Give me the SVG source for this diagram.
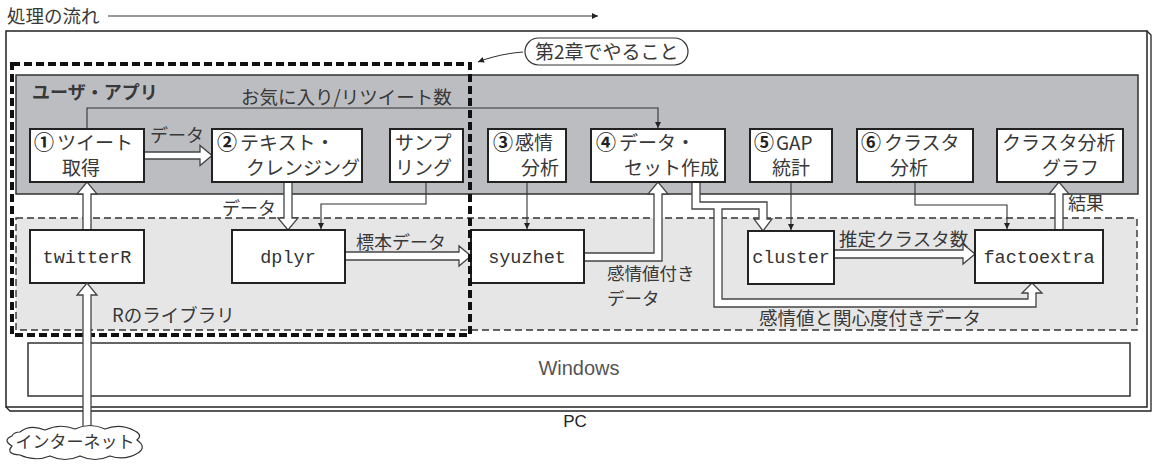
<svg xmlns="http://www.w3.org/2000/svg" width="1158" height="466" viewBox="0 0 1158 466">
<defs>
<marker id="ah" viewBox="0 0 10 10" refX="10" refY="5" markerWidth="8" markerHeight="6" markerUnits="userSpaceOnUse" orient="auto"><path d="M0,0 L10,5 L0,10 z" fill="#222"/></marker>
<style>
.jp{font-family:"Noto Sans CJK JP","Noto Sans",sans-serif;fill:#383838;}
.lbl{font-size:19px;}
.num{font-size:20px;font-weight:bold;fill:#222;}
.mono{font-family:"Liberation Mono",monospace;font-size:18.5px;fill:#333;text-anchor:middle;}
.box{fill:#fff;stroke:#222;stroke-width:2;}
.dbl{fill:#fff;stroke:#444;stroke-width:1.3;stroke-linejoin:miter;}
.thin{fill:none;stroke:#333;stroke-width:1.1;marker-end:url(#ah);}
</style>
</defs>

<g id="flow-title">
<text class="jp" x="7" y="23" font-size="18.5">処理の流れ</text>
<path d="M108,16 H598" class="thin"/>
</g>

<g id="pc">
<rect x="6" y="31" width="1141" height="376" fill="#fff" stroke="#222" stroke-width="1.5"/>
<path d="M1147,31 L1151,35 V411 H10 L6,407" fill="none" stroke="#222" stroke-width="1.3"/>
<text x="575" y="427" font-family="Liberation Sans,Arial,sans-serif" font-size="17" fill="#222" text-anchor="middle">PC</text>
</g>

<g id="windows">
<rect x="28" y="343" width="1102" height="53" fill="#fff" stroke="#333" stroke-width="1.5"/>
<text x="579" y="375" font-family="Liberation Sans,Arial,sans-serif" font-size="20" fill="#555" text-anchor="middle">Windows</text>
</g>

<g id="user-app">
<rect x="16" y="75" width="1122" height="119" fill="#bcbdc0" stroke="#333" stroke-width="1.5"/>
<text class="jp" x="32" y="99" font-size="18" font-weight="bold" fill="#222">ユーザ・アプリ</text>
</g>

<g id="r-library">
<rect x="16" y="218" width="1121" height="112" fill="#e6e6e7" stroke="#333" stroke-width="1.4" stroke-dasharray="7,4"/>
<text class="jp" x="112" y="322" font-size="18.5" fill="#222">Rのライブラリ</text>
</g>

<g id="connectors">
<path class="thin" d="M87,129 V108 H658 V128"/>
<text class="jp" x="241" y="104" font-size="18.5">お気に入り/リツイート数</text>
<path class="dbl" d="M144,152 H200 V145.5 L212,155.5 L200,165.5 V159 H144"/>
<text class="jp" x="150" y="142" font-size="18">データ</text>
<path class="dbl" d="M284,182 V218 H278 L288,230 L298,218 H292 V182"/>
<text class="jp" x="222" y="215" font-size="18">データ</text>
<path class="thin" d="M426,182 V204 H321 V229"/>
<path class="dbl" d="M83,230 V194 H77 L87,182 L97,194 H91 V230"/>
<path class="dbl" d="M345,252 H459 V246 L471,256 L459,266 V260 H345"/>
<text class="jp" x="356" y="249" font-size="18">標本データ</text>
<path class="thin" d="M527,182 V229"/>
<path class="dbl" d="M584,253 H654 V194 H648 L658,182 L668,194 H662 V261 H584"/>
<text class="jp" x="607" y="280" font-size="17.5">感情値付き</text>
<text class="jp" x="607" y="305" font-size="17.5">データ</text>
<path class="dbl" d="M692,182 V209 H714 V307 H1036 V293 H1042 L1032,283 L1022,293 H1028 V299 H722 V209 H759 V219 H754 L763,231 L772,219 H767 V202 H700 V182"/>
<text class="jp" x="759" y="325" font-size="18.5">感情値と関心度付きデータ</text>
<path class="thin" d="M791,182 V230"/>
<path class="thin" d="M915,182 V205 H1007 V229"/>
<path class="dbl" d="M834,250 H963 V244 L975,254 L963,264 V258 H834"/>
<text class="jp" x="839" y="246" font-size="18.5">推定クラスタ数</text>
<path class="dbl" d="M1055,230 V194 H1049 L1059,182 L1069,194 H1063 V230"/>
<text class="jp" x="1068" y="210" font-size="18">結果</text>
</g>

<g id="n1"><rect class="box" x="30" y="129" width="114" height="53"/><text class="jp lbl" x="34" y="150"><tspan class="num">①</tspan><tspan dx="3">ツイート</tspan></text><text class="jp lbl" x="62" y="175">取得</text></g>
<g id="n2"><rect class="box" x="212" y="129" width="150" height="53"/><text class="jp lbl" x="217" y="150"><tspan class="num">②</tspan><tspan dx="3">テキスト・</tspan></text><text class="jp lbl" x="246" y="175">クレンジング</text></g>
<g id="n-sampling"><rect class="box" x="390" y="129" width="73" height="53"/><text class="jp lbl" x="395" y="150">サンプ</text><text class="jp lbl" x="395" y="175">リング</text></g>
<g id="n3"><rect class="box" x="488" y="129" width="78" height="53"/><text class="jp lbl" x="493" y="150"><tspan class="num">③</tspan><tspan dx="2">感情</tspan></text><text class="jp lbl" x="521" y="175">分析</text></g>
<g id="n4"><rect class="box" x="591" y="129" width="134" height="53"/><text class="jp lbl" x="596" y="150"><tspan class="num">④</tspan><tspan dx="3">データ・</tspan></text><text class="jp lbl" x="624" y="175">セット作成</text></g>
<g id="n5"><rect class="box" x="750" y="129" width="82" height="53"/><text class="jp lbl" x="754" y="150"><tspan class="num">⑤</tspan><tspan dx="2">GAP</tspan></text><text class="jp lbl" x="772" y="175">統計</text></g>
<g id="n6"><rect class="box" x="857" y="129" width="116" height="53"/><text class="jp lbl" x="861" y="150"><tspan class="num">⑥</tspan><tspan dx="3">クラスタ</tspan></text><text class="jp lbl" x="890" y="175">分析</text></g>
<g id="n-graph"><rect class="box" x="997" y="129" width="126" height="53"/><text class="jp lbl" x="1002" y="150">クラスタ分析</text><text class="jp lbl" x="1042" y="175">グラフ</text></g>

<g id="twitterR"><rect class="box" x="30" y="230" width="114" height="53"/><text class="mono" x="87" y="263">twitterR</text></g>
<g id="dplyr"><rect class="box" x="232" y="230" width="113" height="53"/><text class="mono" x="288" y="263">dplyr</text></g>
<g id="syuzhet"><rect class="box" x="471" y="230" width="113" height="53"/><text class="mono" x="527" y="263">syuzhet</text></g>
<g id="cluster"><rect class="box" x="748" y="231" width="86" height="53"/><text class="mono" x="791" y="263">cluster</text></g>
<g id="factoextra"><rect class="box" x="975" y="230" width="128" height="53"/><text class="mono" x="1039" y="263">factoextra</text></g>

<g id="chapter2">
<path d="M12,64 H470 V335 H12 Z" fill="none" stroke="#111" stroke-width="4" stroke-dasharray="8,4"/>
<rect x="525" y="38" width="163" height="27" rx="13.5" fill="#fff" stroke="#333" stroke-width="1.2"/>
<text class="jp" x="535" y="59" font-size="19">第2章でやること</text>
<path class="thin" d="M523,52 Q498,54 478,62"/>
</g>

<g id="internet">
<path class="dbl" d="M83,430 V295 H77 L87,283 L97,295 H91 V430"/>
<path d="M20,432 Q30,424 45,430 Q60,423 75,429 Q90,422 105,429 Q120,423 135,431 Q143,435 137,440 Q147,447 138,453 Q125,461 110,456 Q95,463 80,456 Q65,463 50,456 Q35,462 20,455 Q5,454 12,446 Q2,440 12,436 Q14,432 20,432 Z" fill="#fff" stroke="#333" stroke-width="1.2"/>
<text class="jp" x="75" y="448" font-size="17" text-anchor="middle">インターネット</text>
</g>
</svg>
